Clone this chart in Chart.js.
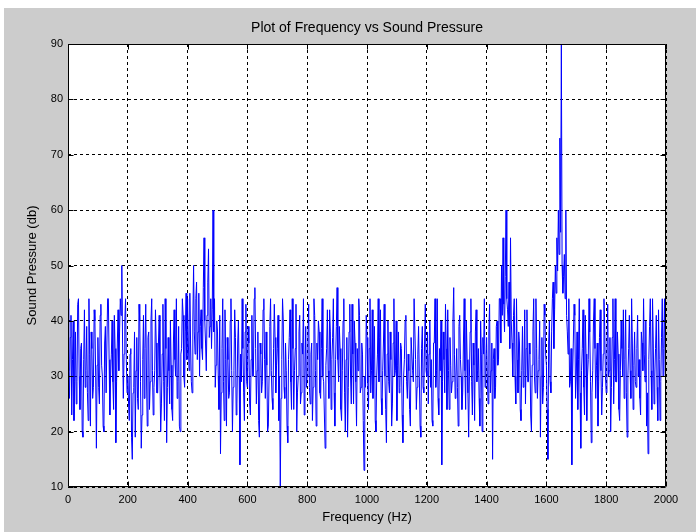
<!DOCTYPE html>
<html>
<head>
<meta charset="utf-8">
<script src="https://cdn.jsdelivr.net/npm/chart.js@4/dist/chart.umd.min.js"></script>
<style>
  html, body { margin: 0; padding: 0; background: #ffffff; }
  #wrap { position: absolute; left: 4px; top: 8px; width: 692px; height: 524px; background: #cccccc; }
</style>
</head>
<body>
<div id="wrap"><canvas id="spectrumChart"></canvas></div>
<script>
// sound pressure (db), one sample every 2.5 Hz from 0 to 2000 Hz (one row = 100 Hz)
const pressure = [
    44, 31, 26, 37, 41, 23, 33, 40, 22, 29, 38, 25, 29, 43, 44, 30, 24, 35, 36, 20, 19, 33, 42, 28, 31, 39, 27, 22, 44, 34, 21, 38, 35, 26, 28, 42, 40, 30, 17, 32,
    37, 28, 25, 41, 43, 32, 30, 21, 20, 36, 39, 27, 27, 44, 44, 33, 23, 30, 34, 40, 29, 24, 41, 35, 18, 29, 36, 42, 31, 38, 44, 41, 50, 36, 26, 34, 40, 44, 33, 27,
    30, 25, 22, 34, 35, 19, 15, 27, 28, 38, 19, 31, 37, 26, 24, 43, 40, 29, 17, 23, 33, 41, 26, 35, 43, 30, 21, 37, 38, 24, 29, 40, 44, 31, 23, 28, 31, 42, 36, 27,
    27, 36, 41, 30, 20, 25, 34, 43, 29, 22, 44, 35, 18, 28, 37, 31, 25, 40, 32, 24, 22, 36, 42, 33, 30, 44, 26, 29, 39, 21, 20, 34, 35, 44, 41, 30, 28, 38, 45, 33,
    44, 36, 31, 45, 36, 29, 27, 40, 50, 38, 34, 44, 47, 33, 38, 45, 30, 39, 42, 35, 33, 46, 55, 40, 36, 31, 41, 47, 53, 37, 39, 44, 35, 42, 60, 38, 44, 28, 32, 40,
    38, 30, 24, 41, 16, 27, 35, 44, 29, 22, 42, 33, 21, 37, 33, 26, 27, 40, 44, 31, 20, 28, 31, 42, 37, 23, 25, 36, 40, 30, 14, 34, 29, 44, 35, 27, 22, 38, 43, 29,
    28, 39, 36, 25, 23, 33, 41, 30, 30, 44, 46, 35, 25, 31, 38, 22, 19, 36, 34, 27, 29, 42, 44, 33, 26, 38, 32, 20, 21, 30, 39, 44, 31, 26, 24, 35, 43, 37, 27, 32,
    35, 41, 22, 30, 10, 26, 33, 44, 40, 28, 26, 36, 31, 21, 18, 33, 37, 42, 29, 24, 44, 35, 24, 31, 35, 43, 20, 27, 30, 38, 41, 25, 27, 36, 34, 44, 23, 30, 39, 28,
    30, 37, 43, 28, 25, 34, 36, 22, 28, 44, 41, 31, 21, 36, 33, 40, 38, 27, 26, 35, 44, 30, 29, 23, 17, 32, 35, 42, 31, 26, 42, 38, 24, 33, 37, 44, 27, 21, 33, 39,
    46, 33, 29, 39, 35, 24, 22, 31, 40, 44, 27, 20, 33, 37, 19, 28, 38, 43, 30, 25, 43, 34, 25, 40, 36, 29, 21, 35, 31, 44, 41, 27, 28, 36, 34, 22, 13, 30, 28, 41,
    37, 29, 24, 35, 44, 27, 31, 42, 26, 33, 39, 22, 20, 30, 34, 44, 29, 37, 42, 26, 23, 31, 36, 43, 30, 24, 18, 34, 40, 29, 27, 38, 33, 21, 25, 36, 44, 30, 31, 40,
    22, 32, 38, 27, 28, 36, 35, 23, 18, 30, 33, 40, 41, 29, 26, 34, 31, 24, 21, 37, 37, 31, 29, 44, 44, 33, 24, 28, 34, 39, 30, 21, 19, 35, 39, 28, 27, 36, 43, 31,
    30, 38, 25, 34, 40, 28, 33, 22, 21, 36, 36, 44, 28, 31, 44, 26, 23, 35, 31, 40, 14, 29, 38, 33, 27, 43, 35, 24, 42, 31, 24, 37, 32, 27, 29, 40, 46, 34, 26, 30,
    35, 28, 21, 39, 41, 33, 30, 24, 27, 36, 44, 31, 24, 40, 33, 27, 19, 30, 38, 44, 29, 23, 36, 32, 22, 38, 42, 29, 31, 35, 26, 21, 40, 34, 20, 37, 34, 44, 28, 31,
    37, 30, 25, 38, 43, 27, 31, 36, 15, 33, 35, 26, 28, 39, 40, 32, 33, 44, 44, 36, 50, 41, 55, 43, 38, 48, 60, 44, 42, 39, 47, 35, 55, 40, 36, 30, 41, 44, 30, 25,
    44, 33, 27, 38, 36, 24, 22, 31, 39, 28, 31, 42, 25, 35, 42, 29, 29, 36, 34, 23, 20, 32, 38, 44, 30, 27, 44, 35, 26, 31, 33, 40, 19, 30, 37, 25, 28, 43, 41, 34,
    32, 24, 15, 36, 40, 29, 27, 38, 44, 47, 35, 42, 50, 45, 55, 49, 60, 52, 73, 56, 90, 50, 45, 48, 52, 44, 60, 41, 38, 34, 44, 28, 29, 35, 14, 30, 36, 43, 41, 26,
    30, 38, 24, 33, 44, 27, 17, 31, 35, 42, 28, 23, 41, 34, 22, 30, 33, 44, 38, 29, 18, 27, 31, 40, 44, 35, 26, 32, 36, 21, 29, 37, 42, 31, 23, 28, 34, 44, 39, 30,
    27, 34, 43, 30, 31, 37, 20, 28, 37, 44, 25, 33, 44, 29, 29, 38, 34, 24, 22, 31, 40, 35, 30, 42, 26, 33, 42, 27, 19, 30, 35, 41, 31, 26, 44, 36, 24, 32, 38, 29,
    28, 35, 41, 30, 33, 26, 23, 38, 36, 31, 44, 34, 29, 40, 21, 27, 16, 33, 39, 44, 31, 24, 44, 36, 25, 30, 35, 41, 28, 22, 42, 33, 22, 29, 37, 44, 30, 35, 44, 31,
    28
];
const freqStep = 2.5;
const freqs = pressure.map((_, i) => i * freqStep);

const xTicks = [0, 200, 400, 600, 800, 1000, 1200, 1400, 1600, 1800, 2000];
const yTicks = [10, 20, 30, 40, 50, 60, 70, 80, 90];
const chartTitle = 'Plot of Frequency vs Sound Pressure';

const fontFamily = "'Liberation Sans', Arial, sans-serif";

// white axes box, solid frame with inward ticks and a title centred on the axes, like the matlab figure
const axesFrame = {
    id: 'axesFrame',
    beforeDraw(chart) {
        const {ctx, chartArea: a} = chart;
        ctx.save();
        ctx.fillStyle = '#ffffff';
        ctx.fillRect(a.left, a.top, a.right - a.left, a.bottom - a.top);
        ctx.restore();
    },
    afterDraw(chart) {
        const {ctx, chartArea: a, scales} = chart;
        const L = Math.round(a.left) + 0.5, R = Math.round(a.right) - 0.5;
        const T = Math.round(a.top) + 0.5, B = Math.round(a.bottom) - 0.5;
        ctx.save();
        ctx.strokeStyle = '#000000';
        ctx.lineWidth = 1;
        ctx.setLineDash([]);
        ctx.beginPath();
        ctx.rect(L, T, R - L, B - T);
        xTicks.forEach(v => {
            const px = Math.round(scales.x.getPixelForValue(v)) + 0.5;
            ctx.moveTo(px, B); ctx.lineTo(px, B - 5);
            ctx.moveTo(px, T); ctx.lineTo(px, T + 5);
        });
        yTicks.forEach(v => {
            const py = Math.round(scales.y.getPixelForValue(v)) + 0.5;
            ctx.moveTo(L, py); ctx.lineTo(L + 5, py);
            ctx.moveTo(R, py); ctx.lineTo(R - 5, py);
        });
        ctx.stroke();

        ctx.fillStyle = '#000000';
        ctx.font = '14px ' + fontFamily;
        ctx.textAlign = 'center';
        ctx.textBaseline = 'middle';
        ctx.fillText(chartTitle, (a.left + a.right) / 2, a.top - 16);
        ctx.restore();
    }
};

const spectrumElem = document.getElementById('spectrumChart').getContext('2d');

const spectrumData = {
    datasets: [{
        label: 'Sound Pressure',
        data: freqs.map((f, i) => ({x: f, y: pressure[i]})),
        borderColor: '#0000ff',
        borderWidth: 1,
        pointRadius: 0,
        tension: 0,
        fill: false,
    }],
};

const spectrumConfig = {
    type: 'line',
    data: spectrumData,
    options: {
        responsive: true,
        maintainAspectRatio: false,
        animation: false,
        layout: {
            padding: {left: 0, right: 30, top: 36, bottom: 0},
        },
        scales: {
            x: {
                type: 'linear',
                min: 0,
                max: 2000,
                afterBuildTicks: s => { s.ticks = xTicks.map(v => ({value: v})); },
                afterFit: s => { s.height = 45; },
                grid: {color: '#000000', lineWidth: 1, drawTicks: false},
                border: {display: false, dash: [3, 3]},
                ticks: {
                    color: '#000000', padding: 6, maxRotation: 0,
                    font: {family: fontFamily, size: 11},
                    callback: v => String(v),
                },
                title: {
                    display: true,
                    text: 'Frequency (Hz)',
                    color: '#000000',
                    font: {family: fontFamily, size: 13},
                    padding: {top: 0, bottom: 7},
                },
            },
            y: {
                min: 10,
                max: 90,
                afterBuildTicks: s => { s.ticks = yTicks.map(v => ({value: v})); },
                afterFit: s => { s.width = 64; },
                grid: {color: '#000000', lineWidth: 1, drawTicks: false},
                border: {display: false, dash: [3, 3]},
                ticks: {
                    color: '#000000', padding: 5,
                    font: {family: fontFamily, size: 11},
                    callback: v => String(v),
                },
                title: {
                    display: true,
                    text: 'Sound Pressure (db)',
                    color: '#000000',
                    font: {family: fontFamily, size: 13},
                    padding: {top: 21, bottom: 0},
                },
            },
        },
        plugins: {
            legend: {display: false},
            tooltip: {enabled: false},
            title: {display: false},
        },
    },
    plugins: [axesFrame],
};

const spectrumChart = new Chart(spectrumElem, spectrumConfig);
</script>
</body>
</html>
